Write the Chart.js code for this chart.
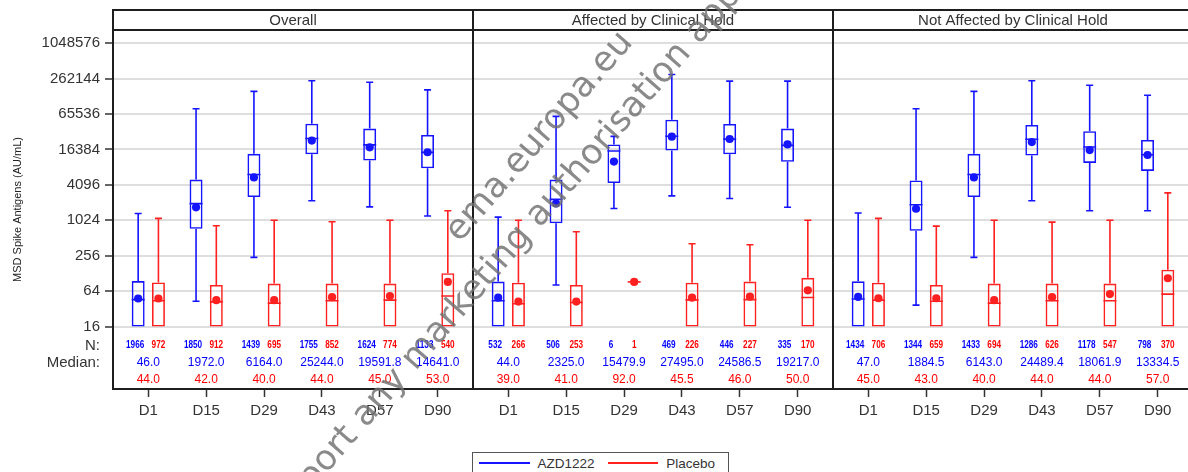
<!DOCTYPE html>
<html>
<head>
<meta charset="utf-8">
<title>MSD Spike Antigens</title>
<script src="https://cdn.jsdelivr.net/npm/chart.js@4.4.1/dist/chart.umd.min.js"></script>
<style>
  html, body { margin: 0; padding: 0; background: #fff; }
  #figure { position: relative; width: 1188px; height: 472px; overflow: hidden; background: #fff; }
  #figure canvas { position: absolute; top: 0; }
  #legend {
    position: absolute; left: 472px; top: 452px; width: 257px; height: 22px;
    box-sizing: border-box; border: 1.5px solid #555; background: #fff;
    display: flex; align-items: center; padding-left: 6px;
    font: 13.5px "Liberation Sans", Arial, sans-serif; color: #333;
  }
  #legend .key { display: inline-block; width: 54px; height: 1.5px; margin-right: 8px; }
  #legend .txt { margin-right: 13px; }
  .wm {
    position: absolute; white-space: nowrap; pointer-events: none;
    font: 35px "DejaVu Sans", sans-serif; line-height: 35px;
    color: rgba(112, 112, 112, 0.82);
    transform-origin: 0 29.6px; transform: rotate(-49deg);
  }
</style>
</head>
<body>
<div id="figure">
  <canvas id="overall" width="473" height="472" style="left:0;width:473px;height:472px"></canvas>
  <canvas id="affected" width="360" height="472" style="left:473px;width:360px;height:472px"></canvas>
  <canvas id="notAffected" width="360" height="472" style="left:833px;width:360px;height:472px"></canvas>
  <div id="legend">
    <span class="key" style="background:#1414ff"></span><span class="txt">AZD1222</span>
    <span class="key" style="background:#ff2020"></span><span class="txt">Placebo</span>
  </div>
  <div class="wm" style="left:460px;top:214px">ema.europa.eu</div>
  <div class="wm" style="left:271px;top:509px">support any marketing authorisation application</div>
</div>
<script>
const visits = ["D1", "D15", "D29", "D43", "D57", "D90"];
const yTicks = [16, 64, 256, 1024, 4096, 16384, 65536, 262144, 1048576];

// box rows: [lower whisker, Q1, Q3, upper whisker]
const overallAzdBox = [[16, 16, 95, 1340], [43, 734, 5040, 80600], [240, 2540, 13800, 159000], [2200, 13600, 45000, 241000], [1735, 10600, 37100, 228000], [1210, 7860, 28900, 169000]];
const overallAzdMedian = [46.0, 1972.0, 6164.0, 25244.0, 19591.8, 14641.0];
const overallAzdMean = [48, 1700, 5480, 23200, 17800, 14700];
const overallAzdN = [1966, 1850, 1439, 1755, 1624, 1133];

const overallPboBox = [[16, 16, 90, 1105], [16, 16, 81.5, 826], [16, 16, 86, 1024], [16, 16, 86, 970], [16, 16, 86, 1024], [16, 16, 129, 1490]];
const overallPboMedian = [44.0, 42.0, 40.0, 44.0, 45.0, 53.0];
const overallPboMean = [48, 45, 45, 50.5, 53, 92];
const overallPboN = [972, 912, 695, 852, 774, 540];

const affectedAzdBox = [[16, 16, 93, 1160], [81.5, 910, 5040, 59900], [1630, 4400, 20000, 27400], [2670, 15700, 52500, 309000], [2400, 13600, 44500, 238000], [1710, 10100, 37100, 238000]];
const affectedAzdMedian = [44.0, 2325.0, 15479.9, 27495.0, 24586.5, 19217.0];
const affectedAzdMean = [49.5, 1980, 10200, 27100, 24700, 20000];
const affectedAzdN = [532, 506, 6, 469, 446, 335];

const affectedPboBox = [[16, 16, 89, 1024], [16, 16, 81.5, 653], [92, 92, 92, 92], [16, 16, 89, 410], [16, 16, 93, 394], [16, 16, 108, 1024]];
const affectedPboMedian = [39.0, 41.0, 92.0, 45.5, 46.0, 50.0];
const affectedPboMean = [42.5, 42.5, 92, 49.5, 51.6, 66];
const affectedPboN = [266, 253, 1, 226, 227, 170];

const notAffectedAzdBox = [[16, 16, 94, 1360], [37, 680, 4870, 80600], [240, 2540, 13800, 159000], [2200, 12900, 42700, 241000], [1490, 9670, 33500, 203000], [1490, 7080, 23800, 137000]];
const notAffectedAzdMedian = [47.0, 1884.5, 6143.0, 24489.4, 18061.9, 13334.5];
const notAffectedAzdMean = [51, 1610, 5480, 21900, 16000, 13200];
const notAffectedAzdN = [1434, 1344, 1433, 1286, 1178, 798];

const notAffectedPboBox = [[16, 16, 89, 1105], [16, 16, 81.5, 815], [16, 16, 86, 1024], [16, 16, 86, 955], [16, 16, 86, 1024], [16, 16, 148, 3000]];
const notAffectedPboMedian = [45.0, 43.0, 40.0, 44.0, 44.0, 57.0];
const notAffectedPboMean = [48.5, 48.5, 45, 50.5, 57, 106];
const notAffectedPboN = [706, 659, 694, 626, 547, 370];

const BLUE = "#1414ff";
const RED = "#ff2020";
const FRAME = "#1e1e1e";

Chart.defaults.font.family = '"Liberation Sans", Arial, sans-serif';

function series(label, color, textColor, box, median, mean, n) {
  return {
    label: label,
    data: box.map((b, i) => ({ x: i, y: [b[1], b[2]] })),
    borderColor: color,
    backgroundColor: "rgba(0,0,0,0)",
    borderWidth: 1.6,
    borderSkipped: false,
    textColor: textColor,
    stats: { box: box, median: median, mean: mean, n: n },
  };
}

// whiskers, caps, median line and mean dot on top of each floating bar
const boxPlot = {
  id: "boxPlot",
  afterDatasetsDraw(chart) {
    const ctx = chart.ctx;
    const y = chart.scales.y;
    ctx.save();
    chart.data.datasets.forEach((ds, di) => {
      const s = ds.stats;
      chart.getDatasetMeta(di).data.forEach((bar, i) => {
        const [lo, q1, q3, hi] = s.box[i];
        const x = bar.x;
        const half = bar.width / 2;
        const cap = 3.5;
        ctx.strokeStyle = ds.borderColor;
        ctx.fillStyle = ds.borderColor;
        ctx.lineWidth = 1.6;
        ctx.beginPath();
        if (hi > q3) {
          ctx.moveTo(x, y.getPixelForValue(q3));
          ctx.lineTo(x, y.getPixelForValue(hi));
          ctx.moveTo(x - cap, y.getPixelForValue(hi));
          ctx.lineTo(x + cap, y.getPixelForValue(hi));
        }
        if (lo < q1) {
          ctx.moveTo(x, y.getPixelForValue(q1));
          ctx.lineTo(x, y.getPixelForValue(lo));
          ctx.moveTo(x - cap, y.getPixelForValue(lo));
          ctx.lineTo(x + cap, y.getPixelForValue(lo));
        }
        const ym = y.getPixelForValue(s.median[i]);
        ctx.moveTo(x - half, ym);
        ctx.lineTo(x + half, ym);
        ctx.stroke();
        ctx.beginPath();
        ctx.arc(x, y.getPixelForValue(s.mean[i]), 4.1, 0, Math.PI * 2);
        ctx.fill();
      });
    });
    ctx.restore();
  },
};

// panel border, header strip and the N / median table under the boxes
const panelFrame = {
  id: "panelFrame",
  afterDraw(chart, args, opts) {
    const ctx = chart.ctx;
    const a = chart.chartArea;
    const x = chart.scales.x;
    const top = 10;
    ctx.save();
    ctx.strokeStyle = FRAME;
    ctx.lineWidth = 2;
    ctx.strokeRect(a.left, top, a.right - a.left, a.bottom - top);
    ctx.beginPath();
    ctx.moveTo(a.left, a.top);
    ctx.lineTo(a.right, a.top);
    ctx.stroke();

    ctx.textAlign = "center";
    ctx.textBaseline = "middle";
    ctx.fillStyle = "#333";
    ctx.font = '15px "Liberation Sans", Arial, sans-serif';
    ctx.fillText(opts.title, (a.left + a.right) / 2, (top + a.top) / 2 + 0.5);

    const rowN = a.bottom - 43.5;
    const rowMed = [a.bottom - 26.5, a.bottom - 9.5];

    // counts are set in a condensed bold face
    ctx.font = 'bold 10px "Liberation Sans", Arial, sans-serif';
    chart.data.datasets.forEach((ds, di) => {
      ctx.fillStyle = ds.textColor;
      chart.getDatasetMeta(di).data.forEach((bar, i) => {
        ctx.save();
        ctx.translate(bar.x - (di === 0 ? 3 : 0), rowN);
        ctx.scale(0.82, 1);
        ctx.fillText(String(ds.stats.n[i]), 0, 0);
        ctx.restore();
      });
    });

    ctx.font = '12px "Liberation Sans", Arial, sans-serif';
    chart.data.datasets.forEach((ds, di) => {
      ctx.fillStyle = ds.textColor;
      ds.stats.median.forEach((m, i) => {
        ctx.fillText(m.toFixed(1), x.getPixelForValue(i), rowMed[di]);
      });
    });

    if (opts.rowLabels) {
      ctx.textAlign = "right";
      ctx.fillStyle = "#333";
      ctx.font = '15px "Liberation Sans", Arial, sans-serif';
      ctx.fillText("N:", a.left - 13, rowN);
      ctx.fillText("Median:", a.left - 13, rowMed[0] + 0.5);
    }
    ctx.restore();
  },
};

function makePanel(id, title, azd, pbo, first) {
  return new Chart(document.getElementById(id), {
    type: "bar",
    data: { datasets: [azd, pbo] },
    options: {
      responsive: false,
      animation: false,
      events: [],
      layout: { padding: { top: 30, left: 0, right: 0, bottom: 0 } },
      datasets: { bar: { categoryPercentage: 0.7, barPercentage: 0.64 } },
      plugins: {
        legend: { display: false },
        tooltip: { enabled: false },
        panelFrame: { title: title, rowLabels: first },
      },
      scales: {
        x: {
          type: "linear",
          min: -0.61,
          max: 5.61,
          offset: false,
          border: { display: false },
          grid: { offset: false, drawOnChartArea: false, drawTicks: true, tickLength: 8, tickColor: "#333", tickWidth: 1.5 },
          ticks: { padding: 5, color: "#333", font: { size: 15 }, maxRotation: 0, callback: (v) => visits[v] },
          afterBuildTicks: (s) => { s.ticks = visits.map((_, i) => ({ value: i })); },
          afterFit: (s) => { s.height = 83; },
        },
        y: {
          type: "logarithmic",
          min: 1.39,
          max: 1.76e6,
          border: { display: false },
          grid: { color: "#dedede", lineWidth: 2, drawTicks: first, tickLength: 8, tickColor: "#333", tickWidth: 1.5 },
          ticks: { display: first, padding: 5, color: "#333", font: { size: 15 }, callback: (v) => String(v) },
          title: {
            display: first,
            text: "MSD Spike Antigens (AU/mL)",
            color: "#222",
            font: { size: 11 },
            padding: { top: 11, bottom: 0 },
          },
          afterBuildTicks: (s) => { s.ticks = yTicks.map((v) => ({ value: v })); },
          afterFit: (s) => { s.width = first ? 113 : 0; },
        },
      },
    },
    plugins: [boxPlot, panelFrame],
  });
}

makePanel("overall", "Overall",
  series("AZD1222", BLUE, "#0000ff", overallAzdBox, overallAzdMedian, overallAzdMean, overallAzdN),
  series("Placebo", RED, "#ff0000", overallPboBox, overallPboMedian, overallPboMean, overallPboN),
  true);

makePanel("affected", "Affected by Clinical Hold",
  series("AZD1222", BLUE, "#0000ff", affectedAzdBox, affectedAzdMedian, affectedAzdMean, affectedAzdN),
  series("Placebo", RED, "#ff0000", affectedPboBox, affectedPboMedian, affectedPboMean, affectedPboN),
  false);

makePanel("notAffected", "Not Affected by Clinical Hold",
  series("AZD1222", BLUE, "#0000ff", notAffectedAzdBox, notAffectedAzdMedian, notAffectedAzdMean, notAffectedAzdN),
  series("Placebo", RED, "#ff0000", notAffectedPboBox, notAffectedPboMedian, notAffectedPboMean, notAffectedPboN),
  false);
</script>
</body>
</html>
